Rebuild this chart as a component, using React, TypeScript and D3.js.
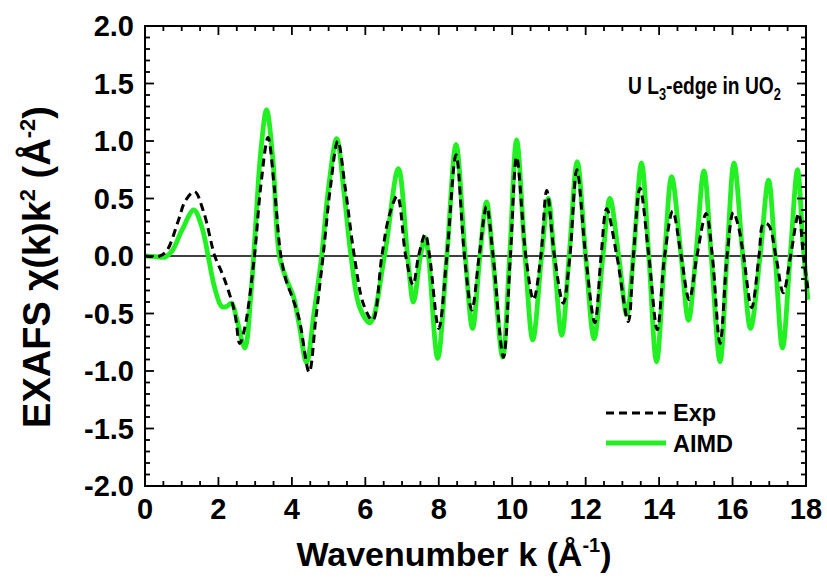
import { useEffect, useRef } from "react";
import * as d3 from "d3";

// Exp (black dashed): wavenumber k and chi(k)k^2
const expK = [
  0, 0.4, 0.6, 0.9, 1.1, 1.35, 1.6, 1.9, 2.1, 2.27, 2.45, 2.58, 2.72, 2.98, 3.15, 3.35, 3.52,
  3.7, 3.85, 4.0, 4.2, 4.47, 4.65, 4.85, 5.05, 5.25, 5.45, 5.7, 5.95, 6.2, 6.45, 6.65, 6.87,
  7.1, 7.3, 7.45, 7.63, 7.75, 8.0, 8.22, 8.47, 8.7, 8.9, 9.1, 9.3, 9.48, 9.76, 9.95, 10.12,
  10.37, 10.58, 10.78, 10.94, 11.15, 11.39, 11.57, 11.76, 12.0, 12.25, 12.42, 12.57, 12.85,
  13.16, 13.3, 13.48, 13.72, 13.95, 14.15, 14.37, 14.6, 14.82, 15.03, 15.28, 15.45, 15.66,
  15.85, 16.02, 16.15, 16.3, 16.52, 16.72, 16.84, 16.98, 17.18, 17.38, 17.58, 17.8, 17.93, 18.05,
];
const expChi = [
  0, 0, 0.05, 0.3, 0.48, 0.56, 0.38, 0, -0.15, -0.3, -0.5, -0.76, -0.62, 0, 0.6, 1.03, 0.6,
  0, -0.22, -0.35, -0.55, -1.01, -0.55, 0, 0.6, 1.0, 0.6, 0, -0.42, -0.56, 0, 0.35, 0.52,
  0, -0.25, 0, 0.19, 0, -0.63, 0, 0.88, 0, -0.47, 0, 0.43, 0, -0.88, 0, 0.86,
  0, -0.38, 0, 0.57, 0, -0.41, 0, 0.75, 0, -0.58, 0, 0.41, 0,
  -0.57, 0, 0.59, 0, -0.64, 0, 0.39, 0, -0.38, 0, 0.37, 0, -0.76,
  0, 0.38, 0.27, 0, -0.45, 0, 0.28, 0.27, 0, -0.32, 0, 0.37, 0, -0.28,
];

// AIMD (green solid)
const aimdK = [
  0, 0.3, 0.55, 0.75, 1.0, 1.33, 1.55, 1.72, 1.9, 2.09, 2.22, 2.36, 2.5, 2.72, 2.88, 3.0, 3.15,
  3.31, 3.48, 3.66, 3.86, 4.04, 4.2, 4.4, 4.6, 4.81, 5.0, 5.22, 5.42, 5.61, 5.85, 6.13, 6.52,
  6.9, 7.15, 7.31, 7.5, 7.63, 7.72, 7.97, 8.22, 8.47, 8.72, 8.92, 9.12, 9.3, 9.47, 9.74, 9.93,
  10.12, 10.35, 10.56, 10.8, 10.98, 11.14, 11.35, 11.55, 11.77, 12.0, 12.23, 12.47, 12.66,
  12.9, 13.12, 13.3, 13.52, 13.72, 13.93, 14.15, 14.34, 14.6, 14.8, 15.0, 15.22, 15.42, 15.66,
  15.85, 16.04, 16.28, 16.49, 16.75, 16.98, 17.16, 17.36, 17.57, 17.77, 17.92, 18.05,
];
const aimdChi = [
  0, -0.005, -0.01, 0.05, 0.22, 0.4, 0.25, 0, -0.28, -0.44, -0.44, -0.41, -0.55, -0.8, -0.35, 0.2, 0.9,
  1.27, 0.85, 0, -0.21, -0.35, -0.6, -0.93, -0.5, 0, 0.6, 1.02, 0.55, 0, -0.45, -0.58, 0,
  0.76, 0, -0.4, 0, 0.16, 0, -0.89, 0, 0.97, 0, -0.63, 0, 0.47, 0, -0.88, 0,
  1.01, 0, -0.73, 0, 0.5, 0, -0.69, 0, 0.82, 0, -0.72, 0, 0.5,
  0, -0.51, 0, 0.81, 0, -0.92, 0, 0.69, 0, -0.56, 0, 0.74, 0, -0.92,
  0, 0.81, 0, -0.63, 0, 0.66, 0, -0.8, 0, 0.75, 0.1, -0.38,
];

const xTickValues = [0, 2, 4, 6, 8, 10, 12, 14, 16, 18];
const yTickValues = [-2.0, -1.5, -1.0, -0.5, 0.0, 0.5, 1.0, 1.5, 2.0];

const FONT = "'Liberation Sans', Arial, sans-serif";
const GREEN = "#22f022";

export default function App() {
  const svgRef = useRef<SVGSVGElement>(null);

  useEffect(() => {
    document.body.style.margin = "0";
    if (!svgRef.current) return;

    const width = 827;
    const height = 579;
    const plot = { left: 145, right: 806, top: 26, bottom: 486 };

    const svg = d3.select(svgRef.current);
    svg.selectAll("*").remove();

    const xScale = d3.scaleLinear().domain([0, 18]).range([plot.left, plot.right]);
    const yScale = d3.scaleLinear().domain([-2, 2]).range([plot.bottom, plot.top]);

    svg.attr("width", width).attr("height", height);
    svg.append("rect").attr("width", width).attr("height", height).attr("fill", "#fff");

    // zero line
    svg
      .append("line")
      .attr("x1", plot.left)
      .attr("x2", plot.right)
      .attr("y1", yScale(0))
      .attr("y2", yScale(0))
      .attr("stroke", "#000")
      .attr("stroke-width", 1.5);

    const line = d3
      .line<[number, number]>()
      .x((d) => xScale(d[0]))
      .y((d) => yScale(d[1]))
      .curve(d3.curveCatmullRom.alpha(0.5));

    const aimd = aimdK.map((k, i) => [k, aimdChi[i]] as [number, number]);
    const exp = expK.map((k, i) => [k, expChi[i]] as [number, number]);

    svg
      .append("path")
      .attr("d", line(aimd))
      .attr("fill", "none")
      .attr("stroke", GREEN)
      .attr("stroke-width", 4.8)
      .attr("stroke-linejoin", "round");

    svg
      .append("path")
      .attr("d", line(exp))
      .attr("fill", "none")
      .attr("stroke", "#000")
      .attr("stroke-width", 3)
      .attr("stroke-dasharray", "8,5");

    // frame
    svg
      .append("rect")
      .attr("x", plot.left)
      .attr("y", plot.top)
      .attr("width", plot.right - plot.left)
      .attr("height", plot.bottom - plot.top)
      .attr("fill", "none")
      .attr("stroke", "#000")
      .attr("stroke-width", 2);

    // ticks, all pointing inward
    const ticks = svg.append("g").attr("stroke", "#000").attr("stroke-width", 1.8);
    d3.range(0, 18.001, 0.5).forEach((k) => {
      const major = Math.abs(k % 2) < 1e-6;
      const len = major ? 9 : 5;
      const x = xScale(k);
      ticks.append("line").attr("x1", x).attr("x2", x).attr("y1", plot.bottom).attr("y2", plot.bottom - len);
      ticks.append("line").attr("x1", x).attr("x2", x).attr("y1", plot.top).attr("y2", plot.top + len);
    });
    d3.range(-20, 21).forEach((i) => {
      const v = i / 10;
      const major = i % 5 === 0;
      const len = major ? 9 : 5;
      const y = yScale(v);
      ticks.append("line").attr("x1", plot.left).attr("x2", plot.left + len).attr("y1", y).attr("y2", y);
      ticks.append("line").attr("x1", plot.right).attr("x2", plot.right - len).attr("y1", y).attr("y2", y);
    });

    // tick labels
    svg
      .append("g")
      .selectAll("text")
      .data(xTickValues)
      .join("text")
      .attr("x", (d) => xScale(d))
      .attr("y", 519)
      .attr("text-anchor", "middle")
      .style("font-family", FONT)
      .style("font-weight", "bold")
      .style("font-size", "29px")
      .text((d) => String(d));

    svg
      .append("g")
      .selectAll("text")
      .data(yTickValues)
      .join("text")
      .attr("x", 134)
      .attr("y", (d) => yScale(d) + 10)
      .attr("text-anchor", "end")
      .style("font-family", FONT)
      .style("font-weight", "bold")
      .style("font-size", "29px")
      .text((d) => d.toFixed(1));

    // x axis title
    const xt = svg
      .append("text")
      .attr("x", 454)
      .attr("y", 566)
      .attr("text-anchor", "middle")
      .style("font-family", FONT)
      .style("font-weight", "bold")
      .style("font-size", "34px");
    xt.append("tspan").text("Wavenumber k (Å");
    xt.append("tspan").attr("dy", -14).style("font-size", "20px").text("-1");
    xt.append("tspan").attr("dy", 14).text(")");

    // y axis title
    const yt = svg
      .append("text")
      .attr("transform", "translate(50,267) rotate(-90)")
      .attr("text-anchor", "middle")
      .style("font-family", FONT)
      .style("font-weight", "bold")
      .style("font-size", "38px");
    yt.append("tspan").text("EXAFS χ(k)k");
    yt.append("tspan").attr("dy", -15).style("font-size", "22px").text("2");
    yt.append("tspan").attr("dy", 15).text(" (Å");
    yt.append("tspan").attr("dy", -15).style("font-size", "22px").text("-2");
    yt.append("tspan").attr("dy", 15).text(")");

    // annotation
    const title = svg
      .append("text")
      .attr("transform", "translate(628,94) scale(0.8,1)")
      .style("font-family", FONT)
      .style("font-weight", "bold")
      .style("font-size", "24px");
    title.append("tspan").text("U L");
    title.append("tspan").attr("dy", 6).style("font-size", "16px").text("3");
    title.append("tspan").attr("dy", -6).text("-edge in UO");
    title.append("tspan").attr("dy", 6).style("font-size", "16px").text("2");

    // legend
    const legend = svg.append("g");
    legend
      .append("line")
      .attr("x1", 606)
      .attr("x2", 666)
      .attr("y1", 413)
      .attr("y2", 413)
      .attr("stroke", "#000")
      .attr("stroke-width", 3)
      .attr("stroke-dasharray", "8,5");
    legend
      .append("line")
      .attr("x1", 606)
      .attr("x2", 666)
      .attr("y1", 443)
      .attr("y2", 443)
      .attr("stroke", GREEN)
      .attr("stroke-width", 4.8);
    legend
      .append("text")
      .attr("x", 673)
      .attr("y", 421)
      .style("font-family", FONT)
      .style("font-weight", "bold")
      .style("font-size", "23.5px")
      .text("Exp");
    legend
      .append("text")
      .attr("x", 673)
      .attr("y", 452)
      .style("font-family", FONT)
      .style("font-weight", "bold")
      .style("font-size", "23.5px")
      .text("AIMD");
  }, []);

  return <svg ref={svgRef} style={{ display: "block" }} />;
}
